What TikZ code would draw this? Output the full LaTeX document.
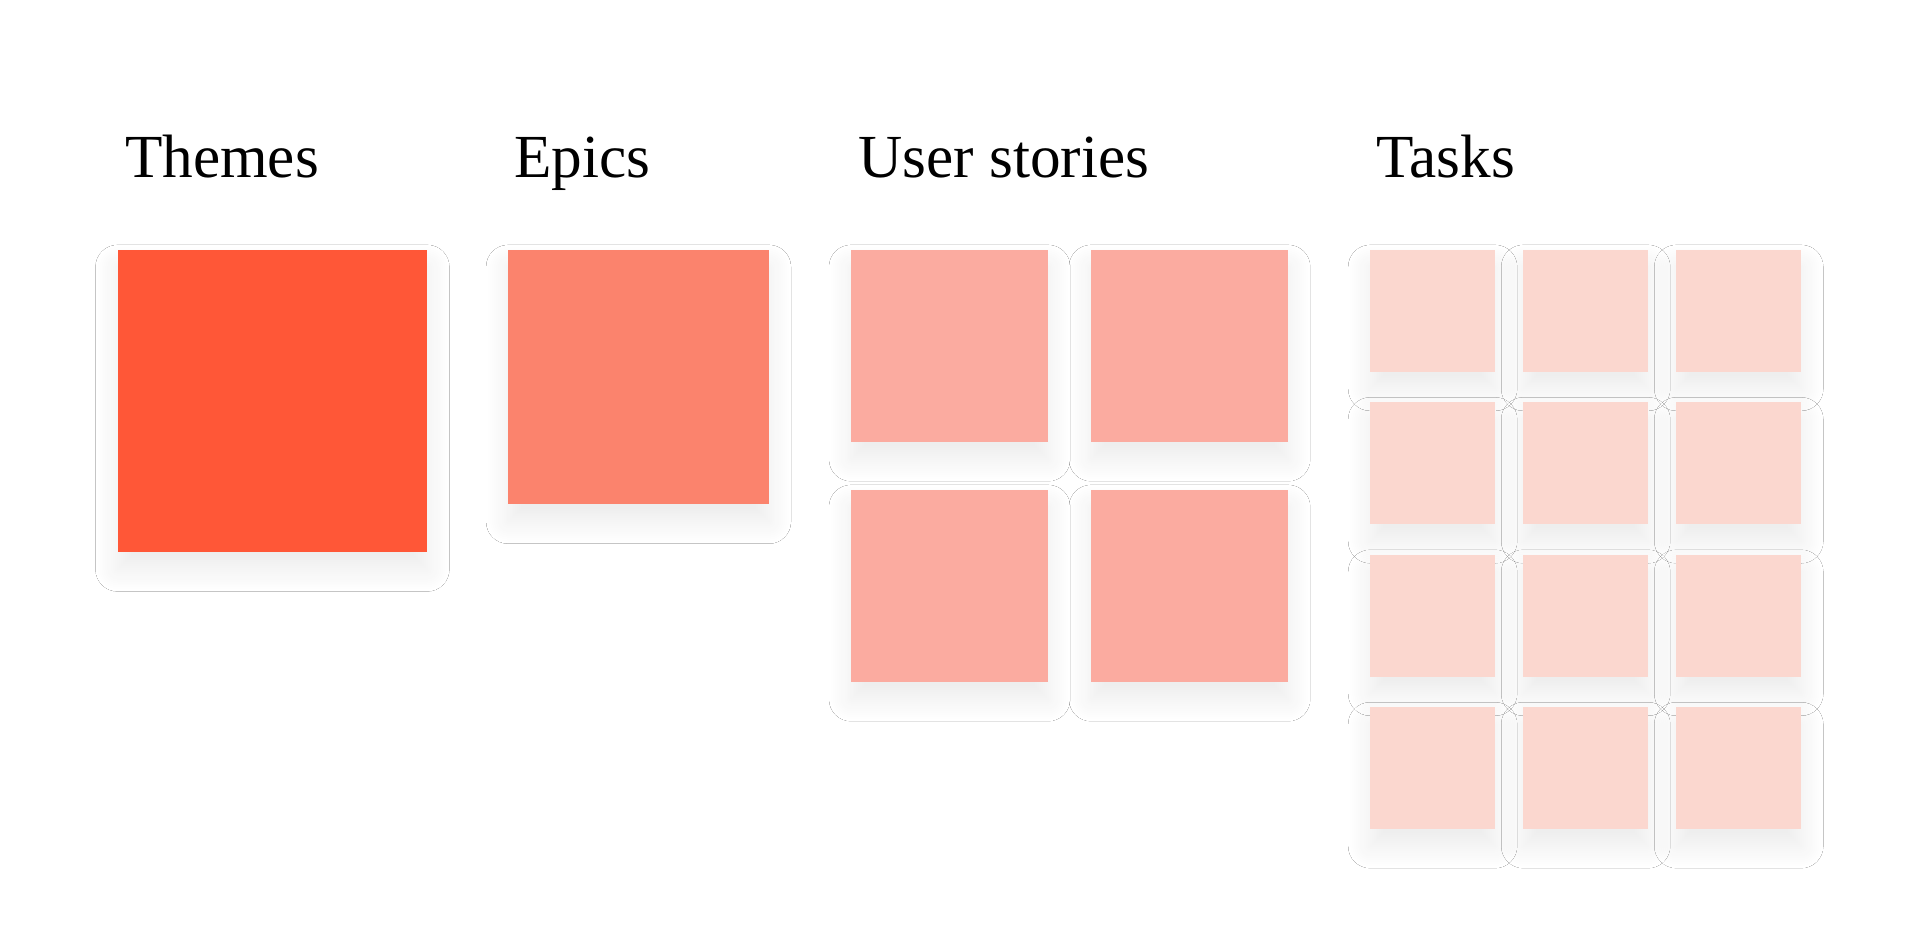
\documentclass[tikz,border=0pt]{standalone}
\usepackage{fontspec}
\setmainfont{Liberation Serif}
\usetikzlibrary{shadows.blur}
\definecolor{cT}{HTML}{FF5737}
\definecolor{cE}{HTML}{FB836D}
\definecolor{cU}{HTML}{FBABA0}
\definecolor{cK}{HTML}{FBD7CF}
\tikzset{x=1pt,y=-1pt,
 card/.style={blur shadow={shadow xshift=0pt,shadow yshift=-14pt,shadow blur steps=12,shadow blur radius=18pt,shadow opacity=8}},
 lbl/.style={anchor=base west,inner sep=0pt,font=\fontsize{50}{60}\selectfont}}
\begin{document}
\begin{tikzpicture}
\useasboundingbox[fill=white] (0,0) rectangle (1568,776);
\node[lbl] (t1) at (102,145) {Themes};
\node[lbl] (t2) at (420,145) {Epics};
\node[lbl] (t3) at (701,145) {User stories};
\node[lbl] (t4) at (1124,145) {Tasks};
\fill[cT,card] (96,204) rectangle (349,451);
\fill[cE,card] (415,204) rectangle (628,412);
\foreach \x in {695,891}\foreach \y in {204,400}
  \fill[cU,card] (\x,\y) rectangle ++(161,157);
\foreach \x in {1119,1244,1369}\foreach \y in {204,328.5,453,577.5}
  \fill[cK,card] (\x,\y) rectangle ++(102,99.5);
\end{tikzpicture}
\end{document}
